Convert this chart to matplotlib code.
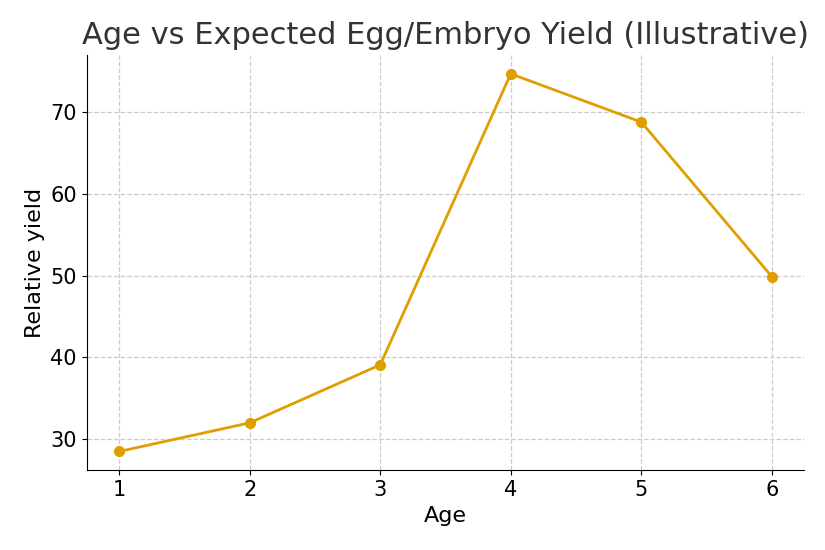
import matplotlib
matplotlib.use("Agg")
import matplotlib.pyplot as plt

ages = [1, 2, 3, 4, 5, 6]
yield_rel = [28.5, 32.0, 39.1, 74.7, 68.8, 49.9]

fig, ax = plt.subplots(figsize=(8.25, 5.5), dpi=100)
ax.plot(ages, yield_rel, color="#E09F00", linewidth=2, marker="o", markersize=7)

ax.set_title("Age vs Expected Egg/Embryo Yield (Illustrative)", fontsize=22,
             color="#333333", pad=8)
ax.set_xlabel("Age", fontsize=16)
ax.set_ylabel("Relative yield", fontsize=16)
ax.tick_params(labelsize=15)
ax.set_xticks(ages)
ax.set_yticks([30, 40, 50, 60, 70])
ax.set_xlim(0.75, 6.25)
ax.set_ylim(26.2, 77)
ax.grid(linestyle="--", color="#cccccc", linewidth=0.9)
ax.spines["top"].set_visible(False)
ax.spines["right"].set_visible(False)

fig.subplots_adjust(left=0.105, right=0.975, top=0.9, bottom=0.145)
fig.savefig("out.png", dpi=100)
